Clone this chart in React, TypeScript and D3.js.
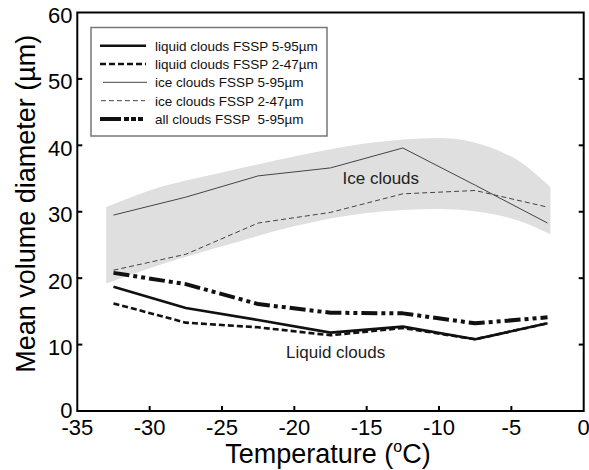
import React from "react";
import * as d3 from "d3";

const temps = [-32.5, -27.5, -22.5, -17.5, -12.5, -7.5, -2.5];
const liquid595 = [18.7, 15.5, 13.7, 11.8, 12.7, 10.8, 13.2];
const liquid247 = [16.2, 13.3, 12.6, 11.4, 12.5, 10.8, 13.2];
const ice595 = [29.5, 32.2, 35.4, 36.6, 39.6, 34.0, 28.3];
const ice247 = [21.2, 23.6, 28.3, 29.9, 32.7, 33.2, 30.7];
const all595 = [20.8, 19.1, 16.1, 14.8, 14.7, 13.2, 14.1];

const bandT = [-33, -30, -25, -20, -15, -10, -5, -2.3];
const bandHigh = [30.7, 33.2, 35.9, 38.3, 40.3, 41.1, 38.3, 33.7];
const bandLow = [19.2, 21.5, 24.8, 27.8, 29.8, 30.4, 29.0, 26.6];

const xTicks = [-35, -30, -25, -20, -15, -10, -5, 0];
const yTicks = [0, 10, 20, 30, 40, 50, 60];

const legendLabels = [
  "liquid clouds FSSP 5-95\u00b5m",
  "liquid clouds FSSP 2-47\u00b5m",
  "ice clouds FSSP 5-95\u00b5m",
  "ice clouds FSSP 2-47\u00b5m",
  "all clouds FSSP  5-95\u00b5m",
];

const yTitle = "Mean volume diameter (\u00b5m)";

const FONT = "'Liberation Sans', Arial, sans-serif";

export default function App() {
  const left = 77.3, right = 583.7, top = 12.5, bottom = 411;
  const x = d3.scaleLinear().domain([-35, 0]).range([left, right]);
  const y = d3.scaleLinear().domain([0, 60]).range([bottom, top]);

  const line = d3
    .line<number>()
    .x((_, i) => x(temps[i]))
    .y((d) => y(d));

  const area = d3
    .area<number>()
    .x((_, i) => x(bandT[i]))
    .y0((_, i) => y(bandLow[i]))
    .y1((d) => y(d))
    .curve(d3.curveMonotoneX);

  const styles = [
    { stroke: "#111", width: 2.6, dash: "none", legDash: "none", x1: 100, x2: 146 },
    { stroke: "#111", width: 2.6, dash: "6,3", legDash: "6,3", x1: 100, x2: 146 },
    { stroke: "#444", width: 1, dash: "none", legDash: "none", x1: 103, x2: 147 },
    { stroke: "#444", width: 1, dash: "5,3", legDash: "5,3", x1: 101, x2: 145 },
    { stroke: "#111", width: 4, dash: "16,4,4,4,4,4", legDash: "21,3,5,2,5,2,5", x1: 100, x2: 144 },
  ];
  const series = [liquid595, liquid247, ice595, ice247, all595];
  const legendY = [45.7, 64, 82.3, 100.7, 119];

  return (
    <svg
      width={589}
      height={470}
      style={{ position: "absolute", left: 0, top: 0, background: "#fff" }}
      fontFamily={FONT}
    >
      <rect x={0} y={0} width={589} height={470} fill="#fff" />
      <path d={area(bandHigh) || ""} fill="#dfdfdf" stroke="none" />

      {series.map((s, i) => (
        <path
          key={i}
          d={line(s) || ""}
          fill="none"
          stroke={styles[i].stroke}
          strokeWidth={styles[i].width}
          strokeDasharray={styles[i].dash}
          strokeLinejoin="round"
        />
      ))}

      <text x={342.5} y={184} fontSize={17} fill="#222">Ice clouds</text>
      <text x={286} y={358} fontSize={17} fill="#222">Liquid clouds</text>

      {/* legend */}
      <rect x={91} y={27.5} width={236} height={108.5} fill="#fff" stroke="#777" strokeWidth={1.5} />
      {legendLabels.map((lab, i) => (
        <g key={lab}>
          <line
            x1={styles[i].x1}
            x2={styles[i].x2}
            y1={legendY[i]}
            y2={legendY[i]}
            stroke={styles[i].stroke}
            strokeWidth={styles[i].width}
            strokeDasharray={styles[i].legDash}
          />
          <text x={155} y={legendY[i] + 4.8} fontSize={13.5} fill="#111" style={{ whiteSpace: "pre" }}>
            {lab}
          </text>
        </g>
      ))}

      {/* frame */}
      <rect x={left} y={top} width={right - left} height={bottom - top} fill="none" stroke="#000" strokeWidth={2} />

      {xTicks.map((t) => (
        <g key={"x" + t}>
          {t !== -35 && t !== 0 && (
            <line x1={x(t)} x2={x(t)} y1={bottom} y2={bottom - 5} stroke="#000" strokeWidth={2} />
          )}
          <text x={x(t)} y={435} fontSize={22} textAnchor="middle" fill="#000">
            {t}
          </text>
        </g>
      ))}
      {yTicks.map((t) => (
        <g key={"y" + t}>
          {t !== 0 && t !== 60 && (
            <>
              <line x1={left} x2={left + 5} y1={y(t)} y2={y(t)} stroke="#000" strokeWidth={2} />
              <line x1={right} x2={right - 5} y1={y(t)} y2={y(t)} stroke="#000" strokeWidth={2} />
            </>
          )}
          <text x={72.5} y={t === 0 ? y(t) + 6.5 : y(t) + 10.5} fontSize={22} textAnchor="end" fill="#000">
            {t}
          </text>
        </g>
      ))}

      <text x={328} y={463} fontSize={27} textAnchor="middle" fill="#000">
        Temperature (<tspan fontSize={16} dy={-11}>o</tspan>
        <tspan dy={11}>C)</tspan>
      </text>
      <text
        transform={`translate(35,${(top + bottom) / 2 - 8}) rotate(-90)`}
        fontSize={27}
        textAnchor="middle"
        fill="#000"
      >
        {yTitle}
      </text>
    </svg>
  );
}
